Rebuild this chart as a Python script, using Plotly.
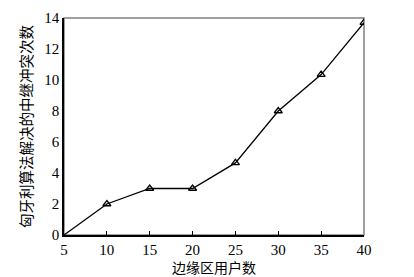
import plotly.graph_objects as go

x_users = [5, 10, 15, 20, 25, 30, 35, 40]
conflicts = [0, 2, 3, 3, 4.65, 8.0, 10.35, 13.7]
marker_x = x_users[1:]
marker_y = conflicts[1:]

fig = go.Figure()
fig.add_trace(go.Scatter(x=x_users, y=conflicts, mode="lines",
                         line=dict(color="black", width=1.3), showlegend=False))
fig.add_trace(go.Scatter(x=marker_x, y=marker_y, mode="markers",
                         marker=dict(symbol="triangle-up-open", size=7,
                                     color="black", line=dict(width=1.3)),
                         showlegend=False))

fig.add_shape(type="rect", xref="paper", yref="paper", x0=0, y0=0, x1=1, y1=1,
              line=dict(color="#808080", width=1.5), layer="below")

tick_font = dict(family="Liberation Serif, Times New Roman, serif", size=15, color="black")
fig.update_layout(
    width=414, height=277,
    margin=dict(l=64, r=50, t=18, b=42),
    paper_bgcolor="white", plot_bgcolor="white",
    xaxis=dict(range=[5, 40], tickvals=[5, 10, 15, 20, 25, 30, 35, 40],
               showgrid=False, zeroline=False, showline=True, linecolor="black",
               linewidth=1.5, ticks="inside", ticklen=4, tickcolor="black",
               tickfont=tick_font, automargin=False,
               title=dict(text="边缘区用户数", standoff=0,
                          font=dict(family="Noto Sans CJK SC", size=14, color="black"))),
    yaxis=dict(range=[0, 14], tickvals=[0, 2, 4, 6, 8, 10, 12, 14],
               showgrid=False, zeroline=False, showline=True, linecolor="black",
               linewidth=1.5, ticks="", tickfont=tick_font, automargin=False,
               title=dict(text="匈牙利算法解决的中继冲突次数", standoff=8,
                          font=dict(family="Noto Sans CJK SC", size=14.5, color="black"))),
)
fig.write_html("out.html", config={"displayModeBar": False},
               post_script="document.body.style.margin='0';")
